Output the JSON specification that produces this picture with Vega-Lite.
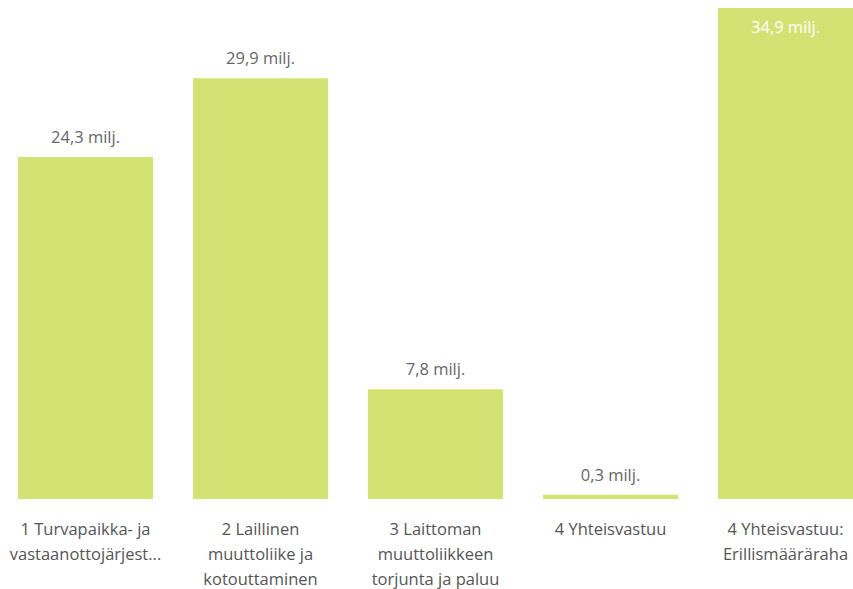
{
  "$schema": "https://vega.github.io/schema/vega-lite/v6.json",
  "width": 853,
  "height": 499,
  "autosize": "none",
  "padding": {"left": 0, "top": 0, "right": 0, "bottom": 90},
  "background": "white",
  "config": {"view": {"stroke": null}},
  "data": {
    "values": [
      {"category": "1 Turvapaikka- ja|vastaanottojärjest...", "value": 24.3},
      {"category": "2 Laillinen|muuttoliike ja|kotouttaminen", "value": 29.9},
      {"category": "3 Laittoman|muuttoliikkeen|torjunta ja paluu", "value": 7.8},
      {"category": "4 Yhteisvastuu", "value": 0.3},
      {"category": "4 Yhteisvastuu:|Erillismääräraha", "value": 34.9}
    ]
  },
  "transform": [
    {"calculate": "replace(format(datum.value, '.1f'), '.', ',') + ' milj.'", "as": "label"}
  ],
  "encoding": {
    "x": {
      "field": "category",
      "type": "nominal",
      "sort": null,
      "scale": {"range": [0, 871], "paddingInner": 0.2286, "paddingOuter": 0.1029},
      "axis": {
        "title": null,
        "domain": false,
        "ticks": false,
        "labelAngle": 0,
        "labelExpr": "split(datum.label, '|')",
        "labelFont": "Open Sans",
        "labelFontSize": 16.5,
        "labelColor": "#555555",
        "labelLineHeight": 25,
        "labelPadding": 22,
        "labelBaseline": "top",
        "labelLimit": 300
      }
    },
    "y": {
      "field": "value",
      "type": "quantitative",
      "scale": {"domain": [0, 35.46], "nice": false},
      "axis": null
    }
  },
  "layer": [
    {"mark": {"type": "bar", "color": "#D3E373"}},
    {
      "transform": [{"filter": "datum.value < 34"}],
      "mark": {"type": "text", "baseline": "bottom", "dy": -11, "font": "Open Sans", "fontSize": 16.5, "color": "#666666"},
      "encoding": {"text": {"field": "label"}}
    },
    {
      "transform": [{"filter": "datum.value >= 34"}],
      "mark": {"type": "text", "baseline": "top", "dy": 12, "font": "Open Sans", "fontSize": 16.5, "color": "white"},
      "encoding": {"text": {"field": "label"}}
    }
  ]
}
